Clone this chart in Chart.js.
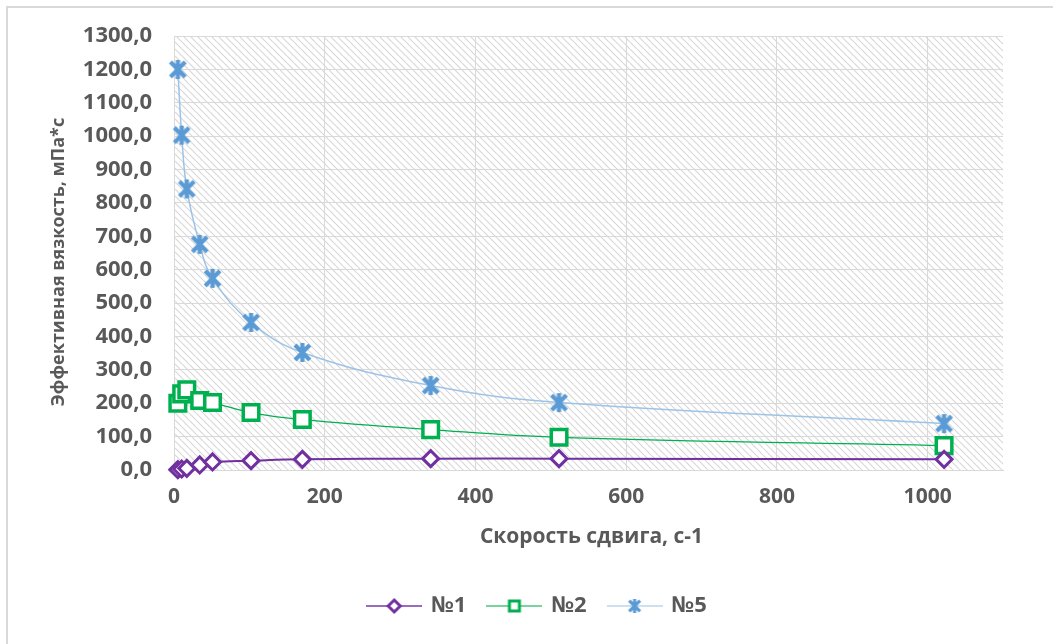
<!DOCTYPE html>
<html>
<head>
<meta charset="utf-8">
<script src="https://cdn.jsdelivr.net/npm/chart.js@4.4.1/dist/chart.umd.min.js"></script>
<style>
  html, body { margin: 0; padding: 0; background: #fff; overflow: hidden; }
  #wrap { position: relative; width: 1053px; height: 644px; }
</style>
</head>
<body>
<div id="wrap"><canvas id="c" width="1053" height="644"></canvas></div>
<script>
// Shear rates (s^-1) and effective viscosity (mPa*s) for three samples
const shearRates = [5.1, 10.2, 17.0, 34.1, 51.1, 102.2, 170.3, 340.6, 510.9, 1021.8];
const sample1 = [1, 3, 5, 15, 24, 28, 32, 34, 34, 32];
const sample2 = [200, 228, 240, 208, 202, 172, 151, 121, 98, 73];
const sample5 = [1200, 1003, 842, 676, 574, 442, 352, 253, 202, 139];
const seriesNames = ['№1', '№2', '№5'];
const xTickValues = [0, 200, 400, 600, 800, 1000];
const xTitle = 'Скорость сдвига, с-1';
const yTitle = 'Эффективная вязкость, мПа*с';

const FONT = "'Open Sans', 'DejaVu Sans', sans-serif";
const TEXT = '#595959';
const GRID = '#d9d9d9';

const C1 = '#7030A0', C2 = '#00B050', C5 = '#5B9BD5', C5LINE = '#9DC3E6';

// Star marker: an X with a vertical bar through it
function starImage(size, lw) {
  const cv = document.createElement('canvas');
  cv.width = size; cv.height = size;
  const g = cv.getContext('2d');
  const p = lw / 2 + 1, q = size - p, m = size / 2;
  g.strokeStyle = C5; g.lineWidth = lw; g.lineCap = 'butt';
  g.beginPath();
  g.moveTo(p, p); g.lineTo(q, q);
  g.moveTo(q, p); g.lineTo(p, q);
  g.moveTo(m, 1); g.lineTo(m, size - 1);
  g.stroke();
  return cv;
}
const starMarker = starImage(21, 4.2);

// Legend symbols: short line with the series marker in the middle
function legendSymbol(kind) {
  const w = 56, h = 22;
  const cv = document.createElement('canvas');
  cv.width = w; cv.height = h;
  const g = cv.getContext('2d');
  const cy = h / 2, cx = w / 2;
  g.lineWidth = kind === 1 ? 2 : 1.5;
  g.strokeStyle = kind === 1 ? '#9a6cc0' : kind === 2 ? '#4cc47f' : '#bcd6ee';
  g.beginPath(); g.moveTo(0, cy); g.lineTo(w, cy); g.stroke();
  if (kind === 1) {
    g.fillStyle = '#fff'; g.strokeStyle = C1; g.lineWidth = 3;
    g.beginPath();
    g.moveTo(cx - 6, cy); g.lineTo(cx, cy - 6); g.lineTo(cx + 6, cy); g.lineTo(cx, cy + 6); g.closePath();
    g.fill(); g.stroke();
  } else if (kind === 2) {
    g.fillStyle = '#fff'; g.strokeStyle = C2; g.lineWidth = 3;
    g.fillRect(cx - 5, cy - 5, 10, 10);
    g.strokeRect(cx - 5, cy - 5, 10, 10);
  } else {
    g.drawImage(starImage(16, 3.2), cx - 8, cy - 8);
  }
  return cv;
}
const legendSymbols = [legendSymbol(1), legendSymbol(2), legendSymbol(5)];

// Diagonal hatch fill for the plot area
function hatchPattern(ctx) {
  const s = 7;
  const cv = document.createElement('canvas');
  cv.width = s; cv.height = s;
  const g = cv.getContext('2d');
  g.fillStyle = '#ffffff'; g.fillRect(0, 0, s, s);
  g.strokeStyle = '#d8d8d8'; g.lineWidth = 1.2;
  g.beginPath();
  for (let k = -1; k <= 1; k++) { g.moveTo(k * s, 0); g.lineTo(k * s + s, s); }
  g.stroke();
  return ctx.createPattern(cv, 'repeat');
}

const framePlugin = {
  id: 'frame',
  afterLayout(chart) {
    // centre the legend row under the middle of the figure
    const lg = chart.legend;
    if (lg) { lg.left += 36; lg.right += 36; }
  },
  beforeDraw(chart) {
    const { ctx, chartArea: a } = chart;
    ctx.save();
    ctx.strokeStyle = GRID; ctx.lineWidth = 2;
    ctx.beginPath();
    ctx.moveTo(7, chart.height); ctx.lineTo(7, 7); ctx.lineTo(chart.width, 7);
    ctx.stroke();
    ctx.fillStyle = hatchPattern(ctx);
    ctx.fillRect(a.left, a.top, a.right - a.left, a.bottom - a.top);
    ctx.restore();
  },
  afterDraw(chart) {
    const { ctx, chartArea: a } = chart;
    ctx.save();
    ctx.fillStyle = TEXT;
    ctx.textAlign = 'center'; ctx.textBaseline = 'middle';
    ctx.font = "bold 21px " + FONT;
    ctx.fillText(xTitle, (a.left + a.right) / 2 + 3, 537);
    ctx.font = "bold 18px " + FONT;
    ctx.translate(59, (a.top + a.bottom) / 2 + 9);
    ctx.rotate(-Math.PI / 2);
    ctx.fillText(yTitle, 0, 0);
    ctx.restore();
  }
};

const pts = (ys) => shearRates.map((x, i) => ({ x, y: ys[i] }));

new Chart(document.getElementById('c'), {
  type: 'line',
  data: {
    datasets: [
      {
        label: seriesNames[0], data: pts(sample1),
        borderColor: C1, borderWidth: 2,
        pointStyle: 'rectRot', pointRadius: 8, pointBorderWidth: 3,
        pointBackgroundColor: '#fff', pointBorderColor: C1
      },
      {
        label: seriesNames[1], data: pts(sample2),
        borderColor: C2, borderWidth: 1.3,
        pointStyle: 'rect', pointRadius: 11, pointBorderWidth: 3.5,
        pointBackgroundColor: '#fff', pointBorderColor: C2
      },
      {
        label: seriesNames[2], data: pts(sample5),
        borderColor: C5LINE, borderWidth: 1.5,
        pointStyle: starMarker, pointRadius: 10,
        pointBackgroundColor: C5, pointBorderColor: C5
      }
    ]
  },
  options: {
    responsive: false,
    animation: false,
    devicePixelRatio: 1,
    layout: { padding: { top: 36, right: 50, left: 0, bottom: 17 } },
    elements: { line: { tension: 0.4, fill: false } },
    clip: false,
    scales: {
      x: {
        type: 'linear', min: 0, max: 1100,
        afterBuildTicks: (s) => { s.ticks = xTickValues.map(v => ({ value: v })); },
        afterFit: (s) => { s.height = 103; },
        grid: { color: GRID, lineWidth: 1, drawTicks: false },
        border: { color: GRID, width: 1 },
        ticks: {
          color: TEXT, padding: 14, font: { family: FONT, size: 21, weight: 'bold' },
          callback: (v) => String(v)
        }
      },
      y: {
        min: 0, max: 1300,
        afterFit: (s) => { s.width = 174; },
        grid: { color: GRID, lineWidth: 1, drawTicks: false },
        border: { color: GRID, width: 1 },
        ticks: {
          stepSize: 100, color: TEXT, padding: 22,
          font: { family: FONT, size: 22, weight: 'bold' },
          callback: (v) => v.toFixed(1).replace('.', ',')
        }
      }
    },
    plugins: {
      tooltip: { enabled: false },
      legend: {
        position: 'bottom',
        labels: {
          usePointStyle: true, pointStyleWidth: 52, padding: 22,
          color: TEXT, font: { family: FONT, size: 22, weight: 'bold' },
          generateLabels: (chart) => chart.data.datasets.map((d, i) => ({
            text: d.label, pointStyle: legendSymbols[i], datasetIndex: i,
            fillStyle: '#fff', strokeStyle: '#fff', lineWidth: 0, hidden: false, fontColor: TEXT
          }))
        }
      }
    }
  },
  plugins: [framePlugin]
});
</script>
</body>
</html>
